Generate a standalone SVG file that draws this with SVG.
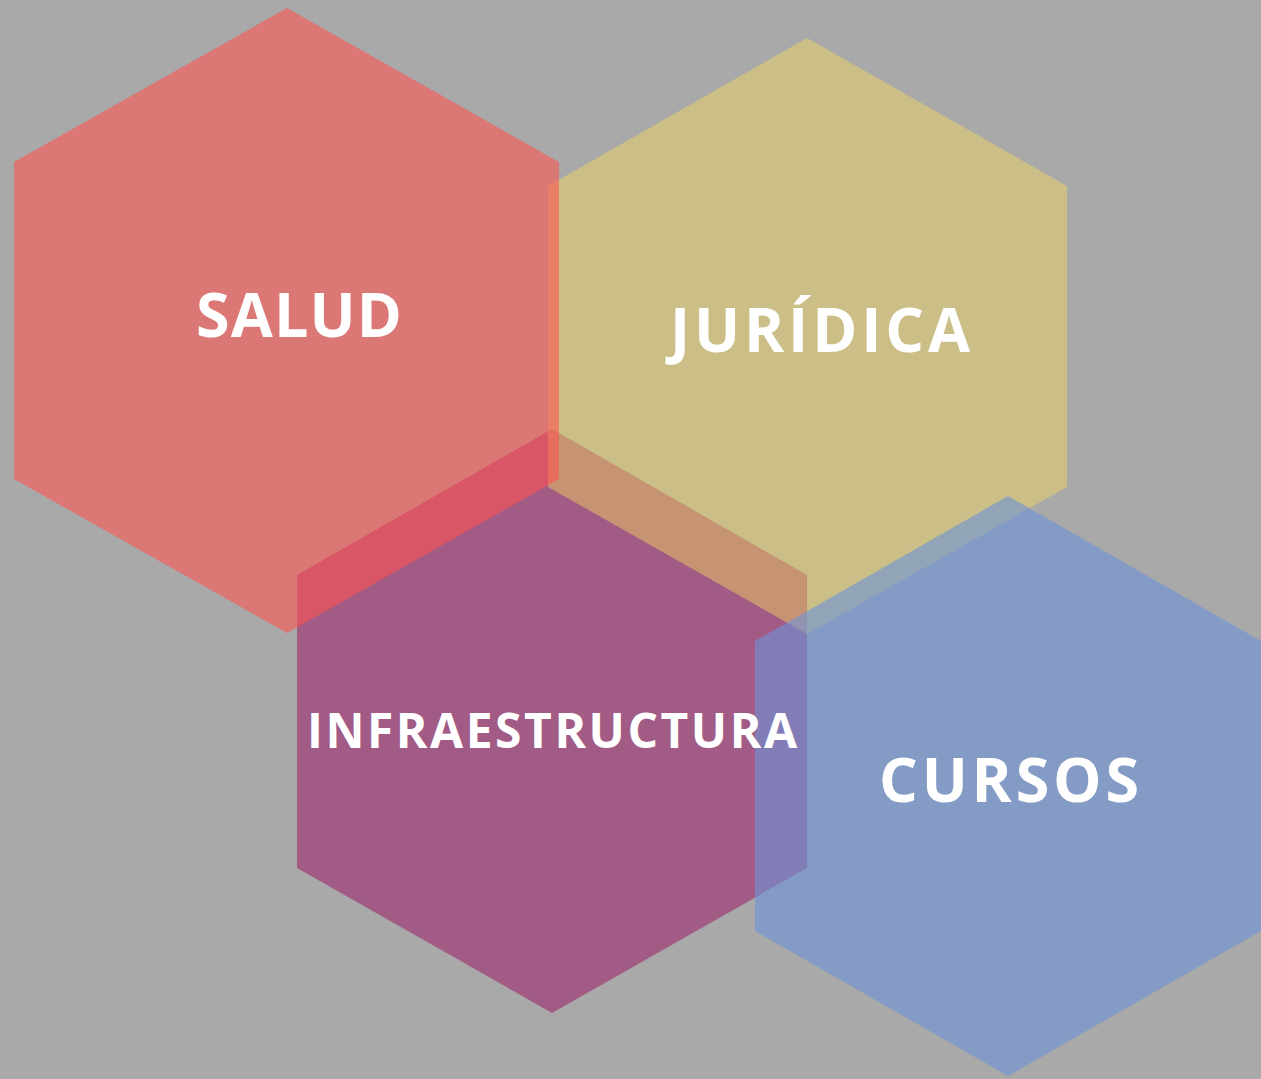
<svg xmlns="http://www.w3.org/2000/svg" width="1261" height="1079" viewBox="0 0 1261 1079">
<style>
.lbl{font-family:"Open Sans","Liberation Sans",sans-serif;font-weight:700;fill:#ffffff;}
</style>
<rect x="0" y="0" width="1261" height="1079" fill="#a9a9a9"/>
<g id="infraestructura">
<polygon points="552,429 807,575 807,868 552,1013 297,868 297,575" fill="#a25b85"/>
</g>
<g id="juridica">
<polygon points="807,38 1067,186 1067,487 807,634 548,487 548,186" fill="#f5da5d" fill-opacity="0.45"/>
</g>
<g id="salud">
<polygon points="287,8 559,162 559,479 287,633 14,479 14,162" fill="#ff534f" fill-opacity="0.58"/>
</g>
<g id="cursos">
<polygon points="1008,496 1261,641 1261,931 1008,1076 755,931 755,641" fill="#6d93d8" fill-opacity="0.6"/>
</g>
<g id="labels">
<text class="lbl" x="196" y="337" font-size="61" textLength="206" lengthAdjust="spacing">SALUD</text>
<text class="lbl" x="670" y="352" font-size="61" textLength="300" lengthAdjust="spacing">JURÍDICA</text>
<text class="lbl" x="307" y="748" font-size="48" textLength="490" lengthAdjust="spacing">INFRAESTRUCTURA</text>
<text class="lbl" x="879" y="802" font-size="61" textLength="260" lengthAdjust="spacing">CURSOS</text>
</g>
<g id="connectors"></g>
</svg>
